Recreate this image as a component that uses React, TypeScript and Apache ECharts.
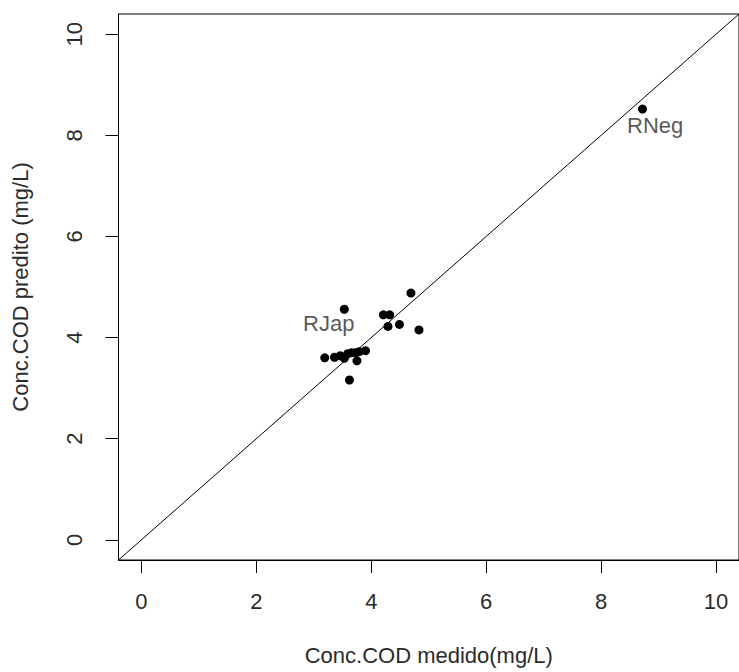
import React, { useEffect, useRef } from "react";
import * as echarts from "echarts";

// Measured vs predicted COD concentration (mg/L)
const codMedido = [4.69, 3.53, 4.21, 4.32, 4.29, 4.49, 4.83, 3.62, 3.19, 3.36, 3.46, 3.53, 3.59, 3.66, 3.73, 3.75, 3.79, 3.9, 8.72];
const codPredito = [4.88, 4.56, 4.45, 4.45, 4.22, 4.26, 4.15, 3.16, 3.6, 3.61, 3.64, 3.59, 3.68, 3.7, 3.7, 3.54, 3.72, 3.74, 8.52];

// Text annotations placed in data coordinates
const annotationNames = ["RJap", "RNeg"];
const annotationX = [3.26, 8.94];
const annotationY = [4.27, 8.2];

const xTicks = [0, 2, 4, 6, 8, 10];
const yTicks = [0, 2, 4, 6, 8, 10];
const axisMin = -0.4;
const axisMax = 10.4;

const FONT = "'Liberation Sans', Arial, sans-serif";
const TEXT_COLOR = "#2b2b2b";
const FONT_SIZE = 22;

export default function App() {
  const ref = useRef<HTMLDivElement>(null);

  useEffect(() => {
    if (!ref.current) return;
    const chart = echarts.init(ref.current, undefined, { renderer: "svg" });

    const points = codMedido.map((x, i) => [x, codPredito[i]]);
    const annotations = annotationNames.map((name, i) => ({
      name,
      value: [annotationX[i], annotationY[i]],
    }));

    chart.setOption({
      animation: false,
      backgroundColor: "#ffffff",
      textStyle: { fontFamily: FONT },
      grid: {
        left: 118.5,
        top: 14,
        width: 627,
        height: 546,
        show: true,
        borderColor: "#000",
        borderWidth: 1,
        containLabel: false,
      },
      xAxis: {
        type: "value",
        min: axisMin,
        max: axisMax,
        name: "Conc.COD medido(mg/L)",
        nameLocation: "middle",
        nameGap: 84,
        nameTextStyle: { fontSize: FONT_SIZE, color: TEXT_COLOR, fontFamily: FONT },
        axisLine: { show: true, onZero: false, lineStyle: { color: "#000", width: 1 } },
        axisTick: {
          show: true,
          length: 13,
          customValues: xTicks,
          lineStyle: { color: "#000", width: 1 },
        },
        axisLabel: {
          customValues: xTicks,
          margin: 30,
          fontSize: FONT_SIZE,
          color: TEXT_COLOR,
          fontFamily: FONT,
        },
        splitLine: { show: false },
      },
      yAxis: {
        type: "value",
        min: axisMin,
        max: axisMax,
        name: "Conc.COD predito (mg/L)",
        nameLocation: "middle",
        nameGap: 87,
        nameRotate: 90,
        nameTextStyle: { fontSize: FONT_SIZE, color: TEXT_COLOR, fontFamily: FONT },
        axisLine: { show: true, onZero: false, lineStyle: { color: "#000", width: 1 } },
        axisTick: {
          show: true,
          length: 13,
          customValues: yTicks,
          lineStyle: { color: "#000", width: 1 },
        },
        axisLabel: {
          customValues: yTicks,
          margin: 33,
          rotate: 90,
          fontSize: FONT_SIZE,
          color: TEXT_COLOR,
          fontFamily: FONT,
        },
        splitLine: { show: false },
      },
      series: [
        {
          type: "line",
          data: [
            [axisMin, axisMin],
            [axisMax, axisMax],
          ],
          showSymbol: false,
          silent: true,
          clip: true,
          lineStyle: { color: "#000", width: 1 },
        },
        {
          type: "scatter",
          data: points,
          symbol: "circle",
          symbolSize: 9,
          itemStyle: { color: "#000", opacity: 1 },
        },
        {
          type: "scatter",
          data: annotations,
          symbolSize: 0,
          label: {
            show: true,
            position: "inside",
            formatter: (p: any) => p.name,
            fontSize: FONT_SIZE,
            color: TEXT_COLOR,
            fontFamily: FONT,
          },
        },
      ],
    });

    return () => chart.dispose();
  }, []);

  return (
    <div
      ref={ref}
      style={{ position: "absolute", left: 0, top: 0, width: 739, height: 672 }}
    />
  );
}
